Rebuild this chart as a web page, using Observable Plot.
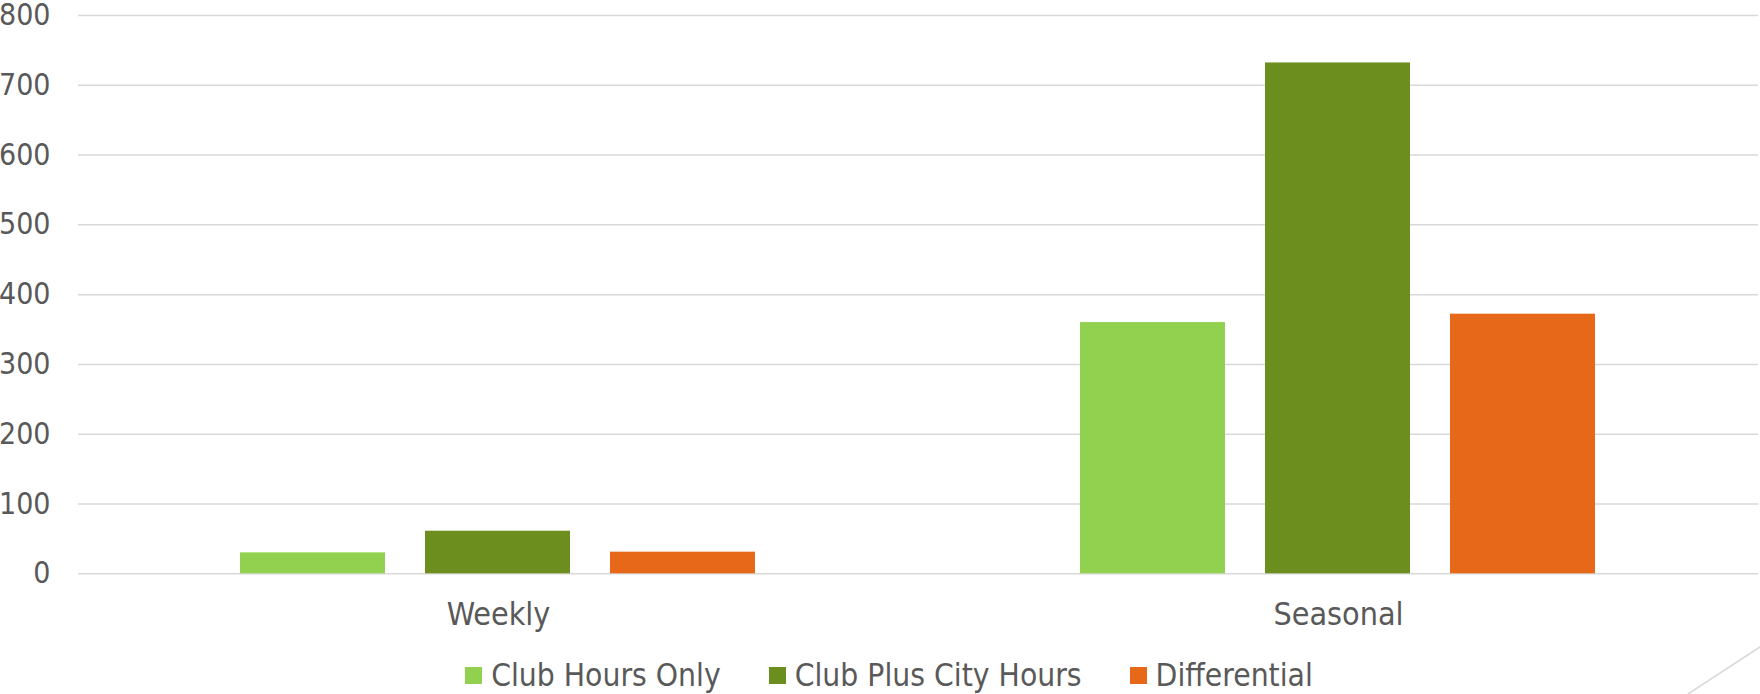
<!DOCTYPE html>
<html>
<head>
<meta charset="utf-8">
<script src="https://cdn.jsdelivr.net/npm/d3@7"></script>
<script src="https://cdn.jsdelivr.net/npm/@observablehq/plot@0.6"></script>
<style>
  html, body { margin: 0; padding: 0; background: #fff; }
  body { width: 1760px; height: 694px; overflow: hidden; position: relative;
         font-family: "DejaVu Sans Condensed", "DejaVu Sans", sans-serif; font-stretch: condensed; }
  #legend { position: absolute; left: 9px; top: 655px; width: 1760px; height: 40px;
            display: flex; justify-content: center; align-items: center; color: #595959; font-size: 31.5px; }
  .item { display: flex; align-items: center; margin: 0 24px; }
  .sw { width: 17px; height: 17px; margin-right: 9px; }
  #deco { position: absolute; left: 0; top: 0; pointer-events: none; }
</style>
</head>
<body>
<div id="chart"></div>
<div id="legend"></div>
<script>
const categories = ["Weekly", "Seasonal"];
const series = ["Club Hours Only", "Club Plus City Hours", "Differential"];
const clubHoursOnly = [30, 360];
const clubPlusCityHours = [61, 732];
const differential = [31, 372];
const yTicks = [0, 100, 200, 300, 400, 500, 600, 700, 800];
const colors = ["#92D050", "#6B8E1F", "#E8681A"];

const seriesValues = [clubHoursOnly, clubPlusCityHours, differential];
const data = [];
categories.forEach((c, i) => {
  series.forEach((s, j) => data.push({category: c, series: s, value: seriesValues[j][i]}));
});

const font = '"DejaVu Sans Condensed", "DejaVu Sans", sans-serif';

const chart = Plot.plot({
  width: 1760,
  height: 645,
  marginLeft: 78,
  marginRight: 2,
  marginTop: 15,
  marginBottom: 71.7,
  style: {fontFamily: font, fontSize: "29px", color: "#595959", background: "#fff", overflow: "visible"},
  fx: {domain: categories, padding: 0, label: null},
  x: {domain: series, paddingInner: 0.215, paddingOuter: 0.8656, axis: null},
  y: {domain: [0, 800], axis: null},
  color: {domain: series, range: colors},
  marks: [
    Plot.ruleY(yTicks, {stroke: "#D9D9D9", strokeWidth: 1.5}),
    Plot.barY(data, {fx: "category", x: "series", y: "value", fill: "series"}),
    Plot.axisY({ticks: yTicks, tickSize: 0, tickPadding: 28, fill: "#595959", fontSize: 30, label: null}),
    Plot.axisFx({anchor: "bottom", tickSize: 0, tickPadding: 28, fill: "#595959", fontSize: 32, label: null})
  ]
});
document.getElementById("chart").appendChild(chart);

const legend = document.getElementById("legend");
series.forEach((s, j) => {
  const it = document.createElement("div");
  it.className = "item";
  const sw = document.createElement("div");
  sw.className = "sw";
  sw.style.background = colors[j];
  const t = document.createElement("span");
  t.textContent = s;
  it.appendChild(sw); it.appendChild(t);
  legend.appendChild(it);
});

// decorative slide corner line
const ns = "http://www.w3.org/2000/svg";
const deco = document.createElementNS(ns, "svg");
deco.setAttribute("id", "deco");
deco.setAttribute("width", 1760);
deco.setAttribute("height", 694);
const ln = document.createElementNS(ns, "line");
ln.setAttribute("x1", 1688); ln.setAttribute("y1", 694);
ln.setAttribute("x2", 1760); ln.setAttribute("y2", 647);
ln.setAttribute("stroke", "#D9D9D9"); ln.setAttribute("stroke-width", 1.5);
deco.appendChild(ln);
document.body.appendChild(deco);
</script>
</body>
</html>
